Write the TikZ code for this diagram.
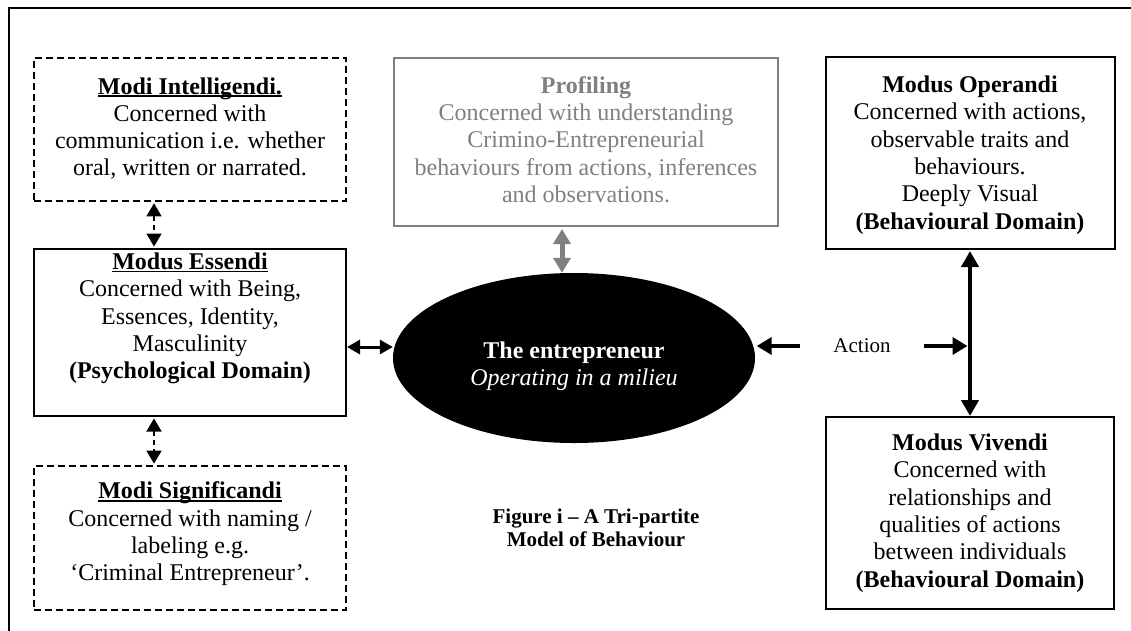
\documentclass[tikz,border=0pt]{standalone}
\usepackage{fontspec}
\setmainfont{Liberation Serif}
\usetikzlibrary{arrows.meta,shapes.geometric}
\definecolor{profgrey}{RGB}{128,128,128}
\newcommand\myul[1]{\setbox0=\hbox{#1}\rlap{\rule[-2.9pt]{\wd0}{1.9pt}}\box0}
\begin{document}
\begin{tikzpicture}[x=1pt,y=-1pt,
  box/.style={draw=black,line width=2pt,inner sep=0pt},
  dbox/.style={box,dash pattern=on 7pt off 4pt,line width=1.7pt},
  gbox/.style={draw=profgrey,line width=2pt,inner sep=0pt},
  txt/.style={align=center,inner sep=0pt,font=\fontsize{24}{27.3}\selectfont},
  dasharrow/.style={line width=1.5pt,dash pattern=on 5pt off 4pt,
    {Triangle[width=15pt,length=13pt]}-{Triangle[width=15pt,length=13pt]},shorten <=1.5pt,shorten >=1.5pt},
  midarrow/.style={line width=3pt,{Triangle[width=14pt,length=13pt]}-{Triangle[width=14pt,length=13pt]}},
  greyarrow/.style={draw=profgrey,line width=5pt,{Triangle[width=17pt,length=15pt]}-{Triangle[width=17pt,length=15pt]},shorten <=2pt},
  thickarrow/.style={line width=4.5pt,-{Triangle[width=17pt,length=15pt]}},
  thickdbl/.style={line width=4.5pt,{Triangle[width=17pt,length=16pt]}-{Triangle[width=17pt,length=16pt]},shorten <=1pt}
]
\useasboundingbox (0,0) rectangle (1131,630);
% outer frame
\draw[line width=2pt] (9,631) -- (9,8) -- (1132,8);

% left column
\node[dbox,minimum width=312pt,minimum height=143pt] (intel) at (190,129.5) {};
\node[txt] (intelT) at (190,128.5) {\myul{\textbf{Modi Intelligendi.}}\\Concerned with\\communication i.e. whether\\oral, written or narrated.};

\node[box,minimum width=312pt,minimum height=167pt] (essendi) at (190,332.5) {};
\node[txt] (essendiT) at (190,318.5) {\myul{\textbf{Modus Essendi}}\\Concerned with Being,\\Essences, Identity,\\Masculinity\\\textbf{(Psychological Domain)}};

\node[dbox,minimum width=312pt,minimum height=144pt] (signif) at (190,538) {};
\node[txt] (signifT) at (190,534) {\myul{\textbf{Modi Significandi}}\\Concerned with naming /\\labeling e.g.\\‘Criminal Entrepreneur’.};

% profiling
\node[gbox,minimum width=384pt,minimum height=168pt] (prof) at (586,142) {};
\node[txt,text=profgrey] (profT) at (586,139.5) {\textbf{Profiling}\\Concerned with understanding\\Crimino-Entrepreneurial\\behaviours from actions, inferences\\and observations.};

% entrepreneur
\node[ellipse,fill=black,minimum width=362pt,minimum height=170pt,inner sep=0pt] (ent) at (574,358) {};
\node[txt,text=white] (entT) at (574,366) {\textbf{The entrepreneur}\\\textit{Operating in a milieu}};

% right column
\node[box,minimum width=289pt,minimum height=192pt] (oper) at (970,153) {};
\node[txt] (operT) at (970,155) {\textbf{Modus Operandi}\\Concerned with actions,\\observable traits and\\behaviours.\\Deeply Visual\\\textbf{(Behavioural Domain)}};

\node[box,minimum width=288pt,minimum height=192pt] (viv) at (970,513) {};
\node[txt] (vivT) at (970,513) {\textbf{Modus Vivendi}\\Concerned with\\relationships and\\qualities of actions\\between individuals\\\textbf{(Behavioural Domain)}};

% action
\node[inner xsep=33pt,inner ysep=0pt,font=\fontsize{21}{24}\selectfont] (action) at (862,346) {Action};

% caption
\node[align=center,inner sep=0pt,font=\fontsize{21}{23.5}\selectfont\bfseries] (cap) at (596,528) {Figure i – A Tri-partite\\Model of Behaviour};

% connectors
\draw[dasharrow] ([xshift=-36pt]intel.south) -- ([xshift=-36pt]essendi.north);
\draw[dasharrow] ([xshift=-36pt]essendi.south) -- ([xshift=-36pt]signif.north);
\draw[midarrow] ([yshift=-14.5pt]essendi.east) -- ([yshift=-14.5pt]essendi.east -| ent.west);
\draw[greyarrow] ([xshift=-24pt]prof.south) -- ([xshift=-12pt]ent.north);
\draw[thickarrow,shorten >=1.5pt] (action.west) -- (action.west -| ent.east);
\draw[thickarrow,shorten >=2.5pt] (action.east) -- (action.east -| oper.south);
\draw[thickdbl] (oper.south) -- (viv.north);
\end{tikzpicture}
\end{document}
